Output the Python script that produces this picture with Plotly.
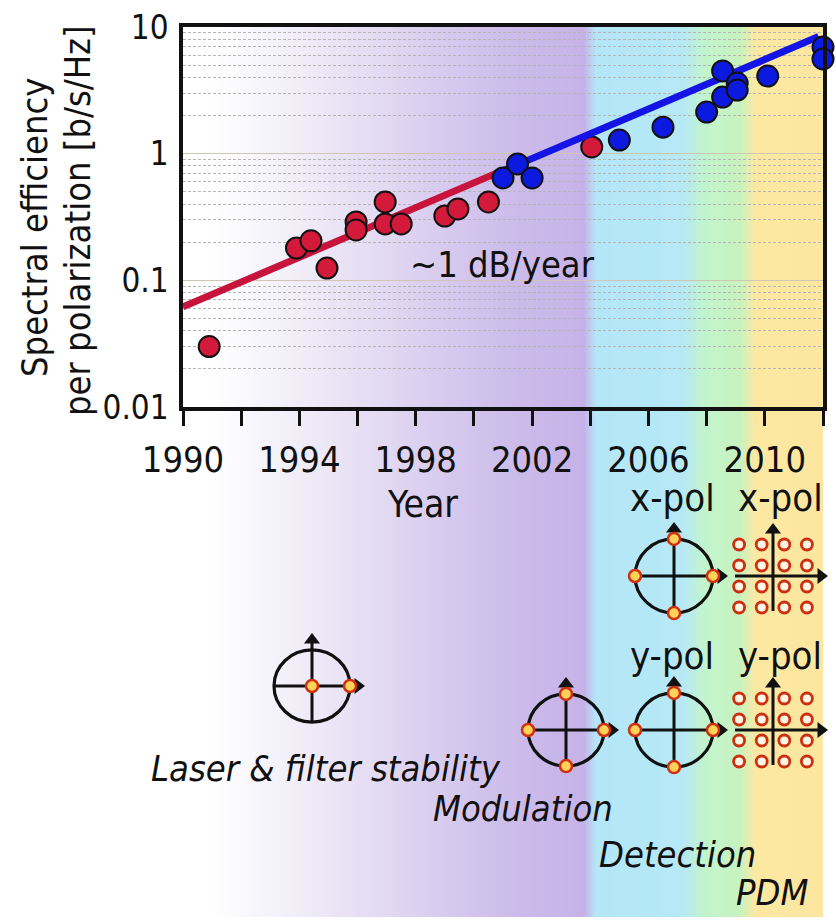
import numpy as np
import plotly.graph_objects as go

W, H = 836, 923
FONT = "DejaVu Sans Condensed, DejaVu Sans, sans-serif"

# ---------------- data ----------------
red_years = [1990.9, 1993.9, 1994.4, 1994.95, 1995.95, 1995.95, 1996.95, 1996.95,
             1997.5, 1999.0, 1999.45, 2000.5, 2004.05]
red_se = [0.030, 0.180, 0.205, 0.125, 0.289, 0.250, 0.416, 0.279,
          0.279, 0.322, 0.366, 0.416, 1.13]

blue_years = [2001.0, 2001.5, 2002.0, 2005.0, 2006.5, 2008.0, 2008.55, 2008.55,
              2009.05, 2009.05, 2010.1, 2012.0, 2012.0]
blue_se = [0.643, 0.83, 0.643, 1.28, 1.62, 2.13, 2.8, 4.5,
           3.61, 3.18, 4.1, 6.95, 5.59]

red_fit_years = [1990.0, 2000.8]
red_fit_se = [0.0617, 0.705]
blue_fit_years = [2000.8, 2011.85]
blue_fit_se = [0.70, 8.4]

x_tick_years = [1990, 1992, 1994, 1996, 1998, 2000, 2002, 2004, 2006, 2008, 2010, 2012]
x_tick_labels = ["1990", "", "1994", "", "1998", "", "2002", "", "2006", "", "2010", ""]
y_tick_vals = [0.01, 0.1, 1, 10]
y_tick_labels = ["0.01", "0.1", "1", "10"]

# background era colours (year -> colour)
era_years = [1990.0, 1991.0, 1992.5, 1994.0, 1995.7, 1997.5, 1999.2, 2000.9, 2003.8,
             2004.2, 2007.2, 2007.95, 2009.15, 2009.7, 2012.0]
era_colors = ["#ffffff", "#ffffff", "#f7f6fc", "#f0edf8", "#e8e2f5", "#dfd5f1", "#d6c9ee",
              "#cebeeb", "#c6b2e8", "#b4e6f8", "#b6e9f5", "#c2f4cc", "#c8f3c0",
              "#fde8a2", "#fce6a0"]

# texts
y_title_lines = ["Spectral efficiency", "per polarization [b/s/Hz]"]
era_labels = ["Laser &amp; filter stability", "Modulation", "Detection", "PDM"]

# ---------------- figure ----------------
fig = go.Figure()

# background gradient (subplot x/y, drawn first)
bg_x = np.arange(1989.95, 2012.06, 0.05)
cs = [[(yr - 1990.0) / 22.0, c] for yr, c in zip(era_years, era_colors)]
fig.add_trace(go.Heatmap(x=bg_x, y=[0, 1], z=[bg_x, bg_x], colorscale=cs,
                         zmin=1990, zmax=2012, showscale=False, hoverinfo="skip",
                         xaxis="x", yaxis="y"))

# main data (subplot x2/y2)
RED_L, RED_M = "#c8143c", "#d41a3a"
BLUE_L, BLUE_M = "#1414e6", "#0c1ae0"
fig.add_trace(go.Scatter(x=red_fit_years, y=red_fit_se, mode="lines",
                         line=dict(color=RED_L, width=7), xaxis="x2", yaxis="y2",
                         hoverinfo="skip"))
fig.add_trace(go.Scatter(x=red_years, y=red_se, mode="markers",
                         marker=dict(size=21, color=RED_M, line=dict(color="#111", width=2)),
                         xaxis="x2", yaxis="y2", cliponaxis=False))
fig.add_trace(go.Scatter(x=blue_fit_years, y=blue_fit_se, mode="lines",
                         line=dict(color=BLUE_L, width=7), xaxis="x2", yaxis="y2",
                         hoverinfo="skip"))
fig.add_trace(go.Scatter(x=blue_years, y=blue_se, mode="markers",
                         marker=dict(size=21, color=BLUE_M, line=dict(color="#111", width=2)),
                         xaxis="x2", yaxis="y2", cliponaxis=False))

# ---------------- constellation sketches (subplot x3/y3, pixel canvas) ----------------
qpsk = [(0, 1), (1, 0), (0, -1), (-1, 0)]
circle_diagrams = [
    dict(cx=312, cy=686, r=38, pts=[(0, 0), (1, 0)]),
    dict(cx=566, cy=730, r=38, pts=qpsk),
    dict(cx=674, cy=576, r=39, pts=qpsk),
    dict(cx=674, cy=730, r=39, pts=qpsk),
]
qam_grids = [dict(cx=773, cy=576), dict(cx=773, cy=730)]
qam_levels = [-1.5, -0.5, 0.5, 1.5]
QX, QY = 22.6, 21.0

shapes = []
tri_up_x, tri_up_y, tri_r_x, tri_r_y = [], [], [], []
dot_x, dot_y, ring_x, ring_y = [], [], [], []
TRI = 14
for d in circle_diagrams:
    cx, cy, r = d["cx"], d["cy"], d["r"]
    shapes.append(dict(type="circle", xref="x3", yref="y3", x0=cx - r, x1=cx + r,
                       y0=cy - r * 0.95, y1=cy + r * 0.95, line=dict(color="#111", width=3.2),
                       layer="below"))
    tip = r + 15
    shapes.append(dict(type="line", xref="x3", yref="y3", x0=cx - r, x1=cx + tip - TRI / 2,
                       y0=cy, y1=cy, line=dict(color="#111", width=3), layer="below"))
    shapes.append(dict(type="line", xref="x3", yref="y3", x0=cx, x1=cx,
                       y0=cy + r * 0.95, y1=cy - tip + TRI / 2, line=dict(color="#111", width=3),
                       layer="below"))
    tri_r_x.append(cx + tip - TRI / 2); tri_r_y.append(cy)
    tri_up_x.append(cx); tri_up_y.append(cy - tip + TRI / 2)
    for px, py in d["pts"]:
        dot_x.append(cx + px * r); dot_y.append(cy - py * r * 0.95)

for g in qam_grids:
    cx, cy = g["cx"], g["cy"]
    shapes.append(dict(type="line", xref="x3", yref="y3", x0=cx - 38, x1=cx + 55 - TRI / 2,
                       y0=cy, y1=cy, line=dict(color="#111", width=3), layer="below"))
    shapes.append(dict(type="line", xref="x3", yref="y3", x0=cx, x1=cx,
                       y0=cy + 35, y1=cy - 53 + TRI / 2, line=dict(color="#111", width=3),
                       layer="below"))
    tri_r_x.append(cx + 55 - TRI / 2); tri_r_y.append(cy)
    tri_up_x.append(cx); tri_up_y.append(cy - 53 + TRI / 2)
    for a in qam_levels:
        for b in qam_levels:
            ring_x.append(cx + a * QX); ring_y.append(cy + b * QY)

fig.add_trace(go.Scatter(x=tri_up_x, y=tri_up_y, mode="markers", xaxis="x3", yaxis="y3",
                         marker=dict(symbol="triangle-up", size=TRI, color="#111"),
                         hoverinfo="skip", cliponaxis=False))
fig.add_trace(go.Scatter(x=tri_r_x, y=tri_r_y, mode="markers", xaxis="x3", yaxis="y3",
                         marker=dict(symbol="triangle-right", size=TRI, color="#111"),
                         hoverinfo="skip", cliponaxis=False))
fig.add_trace(go.Scatter(x=dot_x, y=dot_y, mode="markers", xaxis="x3", yaxis="y3",
                         marker=dict(size=12, color="#ffd25a", line=dict(color="#d0300f", width=2.5)),
                         hoverinfo="skip", cliponaxis=False))
fig.add_trace(go.Scatter(x=ring_x, y=ring_y, mode="markers", xaxis="x3", yaxis="y3",
                         marker=dict(size=11, color="#fff6e4", line=dict(color="#cc3010", width=2.8)),
                         hoverinfo="skip", cliponaxis=False))

# ---------------- annotations ----------------
def txt(x, y, s, size=36, italic=False, angle=0, xanchor="center"):
    return dict(x=x, y=y, xref="x3", yref="y3", text=("<i>%s</i>" % s) if italic else s,
                showarrow=False, xanchor=xanchor, yanchor="middle", textangle=angle,
                font=dict(family=FONT, size=size, color="#111"))

annots = [
    txt(34, 227, y_title_lines[0], size=36, angle=-90),
    txt(77, 221, y_title_lines[1], size=36, angle=-90),
    txt(422, 504, "Year", size=37),
    txt(502, 264, "~1 dB/year", size=36),
    txt(672, 498, "x-pol", size=38), txt(780, 498, "x-pol", size=38),
    txt(672, 656, "y-pol", size=38), txt(780, 656, "y-pol", size=38),
    txt(326, 768, era_labels[0], italic=True),
    txt(523, 808, era_labels[1], italic=True),
    txt(677, 854, era_labels[2], italic=True),
    txt(772, 892, era_labels[3], italic=True),
]

minor_vals = [m * 10.0 ** k for k in (-2, -1, 0) for m in range(2, 10)]
xdom = [183 / W, 823 / W]

fig.update_layout(
    width=W, height=H, margin=dict(l=0, r=0, t=0, b=0, pad=0, autoexpand=False),
    paper_bgcolor="white", plot_bgcolor="rgba(0,0,0,0)", showlegend=False,
    font=dict(family=FONT, size=36, color="#111"),
    xaxis=dict(domain=xdom, range=[1990, 2012], visible=False, anchor="y", automargin=False),
    yaxis=dict(domain=[(H - 917) / H, (H - 27) / H], range=[0, 1], visible=False,
               anchor="x", automargin=False),
    xaxis2=dict(domain=xdom, range=[1990, 2012], anchor="y2", automargin=False,
                tickmode="array", tickvals=x_tick_years, ticktext=x_tick_labels,
                ticks="outside", ticklen=15, tickwidth=3, tickcolor="#111",
                showline=True, linewidth=3.5, linecolor="#111", mirror=True,
                showgrid=False, zeroline=False, ticklabelstandoff=3,
                tickfont=dict(family=FONT, size=36, color="#111")),
    yaxis2=dict(domain=[(H - 407) / H, (H - 27) / H], type="log", range=[-2, 1], anchor="x2",
                automargin=False,
                tickmode="array", tickvals=y_tick_vals, ticktext=y_tick_labels,
                ticks="", showline=True, linewidth=3.5, linecolor="#111", mirror=True,
                showgrid=True, gridcolor="#cfc6b4", gridwidth=1, zeroline=False,
                ticklabelstandoff=4,
                tickfont=dict(family=FONT, size=33, color="#111"),
                minor=dict(tickvals=minor_vals, showgrid=True, gridcolor="#b5b5b5",
                           griddash="3px,2px", gridwidth=1, ticks="")),
    xaxis3=dict(domain=[0, 1], range=[0, W], visible=False, anchor="y3", automargin=False),
    yaxis3=dict(domain=[0, 1], range=[H, 0], visible=False, anchor="x3", automargin=False),
    shapes=shapes,
    annotations=annots,
)

fig.write_html("out.html", config={"displayModeBar": False},
               post_script="document.body.style.margin='0';document.body.style.overflow='hidden';")
